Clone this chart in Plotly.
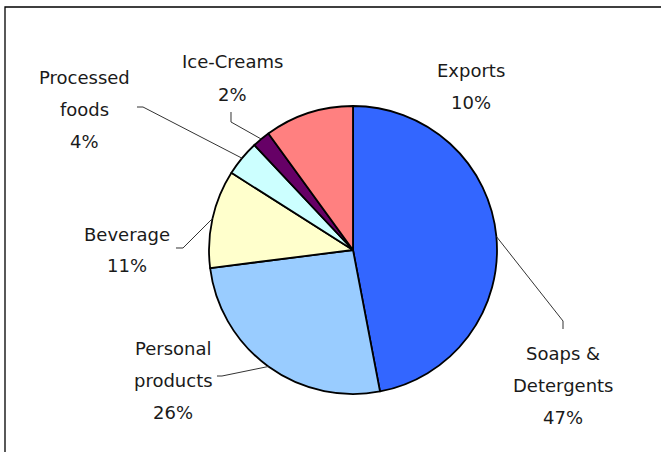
import math
import plotly.graph_objects as go

# Sales share by business segment
categories = ["Soaps & Detergents", "Personal products", "Beverage",
              "Processed foods", "Ice-Creams", "Exports"]
shares = [47, 26, 11, 4, 2, 10]
colors = ["#3366FF", "#99CCFF", "#FFFFCC", "#CCFFFF", "#660066", "#FF8080"]

# How each category name is broken over lines in its label
label_lines = {
    "Soaps & Detergents": ["Soaps &", "Detergents"],
    "Personal products": ["Personal", "products"],
    "Beverage": ["Beverage"],
    "Processed foods": ["Processed", "foods"],
    "Ice-Creams": ["Ice-Creams"],
    "Exports": ["Exports"],
}

W, H = 661, 452
CX, CY, R = 353, 250, 144          # pie centre and radius in pixels

# label placement: (centre x, first baseline y, line step) in pixels
label_pos = {
    "Soaps & Detergents": (563, 359, 32),
    "Personal products": (173, 354, 32),
    "Beverage": (127, 240, 31),
    "Processed foods": (84, 83, 32),
    "Ice-Creams": (232, 68, 32),
    "Exports": (471, 77, 31),
}
# leader line elbows near the labels (pixels); None -> no leader
leader_elbow = {
    "Soaps & Detergents": [(563, 329), (563, 321)],
    "Personal products": [(217, 376), (222, 376)],
    "Beverage": [(176, 248), (183, 248)],
    "Processed foods": [(137, 107), (143, 107)],
    "Ice-Creams": [(231, 112), (231, 122)],
    "Exports": None,
}


def px(x):
    return x / W


def py(y):
    return 1 - y / H


fig = go.Figure(go.Pie(
    labels=categories,
    values=shares,
    sort=False,
    direction="clockwise",
    rotation=0,
    marker=dict(colors=colors, line=dict(color="#000000", width=1.8)),
    textinfo="none",
    hoverinfo="label+percent",
    showlegend=False,
    domain=dict(x=[px(CX - R), px(CX + R)], y=[py(CY + R), py(CY - R)]),
))

annotations = []
shapes = []
total = sum(shares)
cum = 0
for name, val in zip(categories, shares):
    mid = (cum + val / 2) / total * 2 * math.pi
    cum += val
    lx, ly, step = label_pos[name]
    lines = label_lines[name] + [f"{round(val / total * 100)}%"]
    for i, t in enumerate(lines):
        annotations.append(dict(
            x=px(lx), y=py(ly + i * step - 6), xref="paper", yref="paper",
            text=t, showarrow=False, xanchor="center", yanchor="middle",
            font=dict(family="DejaVu Sans", size=18, color="#1a1a1a"),
        ))
    elbow = leader_elbow[name]
    if elbow:
        ex = CX + R * math.sin(mid)
        ey = CY - R * math.cos(mid)
        pts = elbow + [(ex, ey)]
        path = "M " + " L ".join(f"{px(x):.5f},{py(y):.5f}" for x, y in pts)
        shapes.append(dict(type="path", path=path, xref="paper", yref="paper",
                           line=dict(color="#333333", width=1)))

# chart frame (left and top edges visible)
shapes.append(dict(type="path", xref="paper", yref="paper",
                   path=f"M {px(5)},{py(460)} L {px(5)},{py(7)} L {px(670)},{py(7)}",
                   line=dict(color="#000000", width=1.3)))

fig.update_layout(
    width=W, height=H,
    margin=dict(l=0, r=0, t=0, b=0),
    paper_bgcolor="white",
    plot_bgcolor="white",
    annotations=annotations,
    shapes=shapes,
)

fig.write_html("out.html")
